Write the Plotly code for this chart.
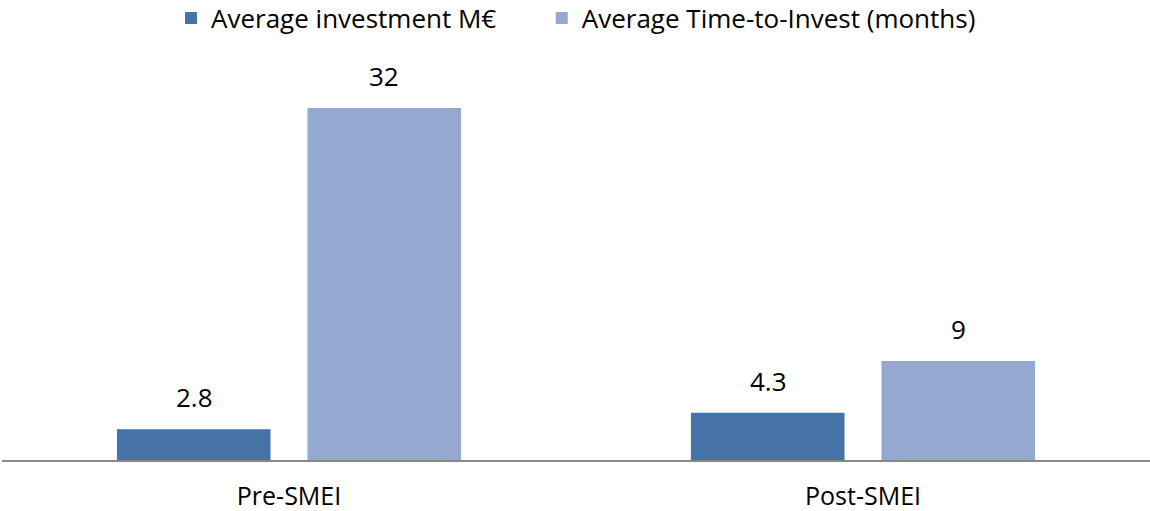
import plotly.graph_objects as go

categories = ["Pre-SMEI", "Post-SMEI"]
investment = [2.8, 4.3]
time_to_invest = [32, 9]
inv_labels = ["2.8", "4.3"]
tti_labels = ["32", "9"]
series_names = ["Average investment M€", "Average Time-to-Invest (months)"]

font_family = "Open Sans, DejaVu Sans, sans-serif"
dark = "#4572A7"
light = "#95A9D0"
legend_pad = "\u00a0" * 6

fig = go.Figure()
fig.add_trace(go.Bar(x=categories, y=investment, name=series_names[0] + legend_pad,
                     marker=dict(color=dark, line=dict(width=0))))
fig.add_trace(go.Bar(x=categories, y=time_to_invest, name=series_names[1],
                     marker=dict(color=light, line=dict(width=0))))

# value labels above bars (offset to each bar in the group)
for vals, labs, shift in [(investment, inv_labels, -95), (time_to_invest, tti_labels, 95)]:
    for c, v, t in zip(categories, vals, labs):
        fig.add_annotation(x=c, y=v, text=t, showarrow=False, xshift=shift, yshift=12,
                           yanchor="bottom", font=dict(size=26, color="#000000"))

fig.update_layout(
    width=1150, height=511,
    margin=dict(l=2, r=0, t=50, b=51, autoexpand=False),
    paper_bgcolor="white", plot_bgcolor="white",
    barmode="group", bargap=0.336, bargroupgap=0.194,
    font=dict(family=font_family, size=26, color="#000000"),
    legend=dict(orientation="h", x=0.5, xanchor="center", y=1.078, yanchor="middle",
                font=dict(size=26), itemwidth=30, traceorder="normal"),
)
fig.update_xaxes(showline=True, linecolor="#898989", linewidth=2, ticks="",
                 tickfont=dict(size=25), ticklabelstandoff=13, showgrid=False)
fig.update_yaxes(range=[0, 37.27], visible=False, showgrid=False, zeroline=False)

fig.write_html("out.html", config={"displayModeBar": False},
               post_script="document.body.style.margin='0';document.body.style.overflow='hidden';")
